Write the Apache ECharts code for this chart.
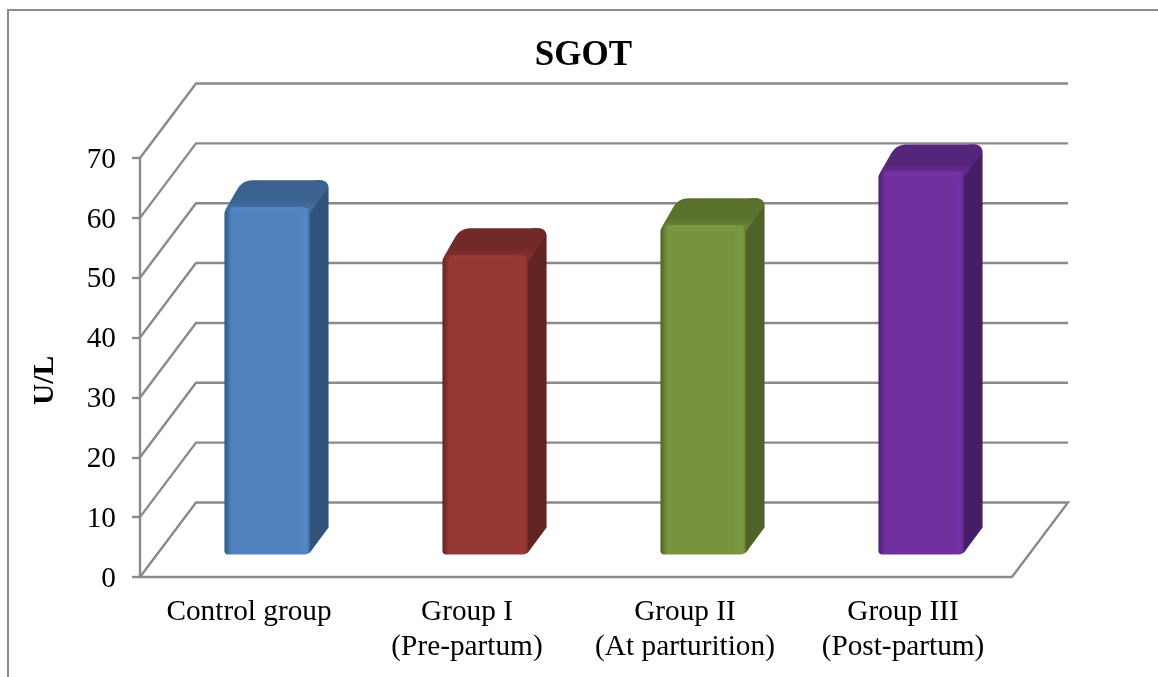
<!DOCTYPE html>
<html>
<head>
<meta charset="utf-8">
<style>html,body{margin:0;padding:0;background:#fff}#c{width:1158px;height:677px}</style>
<script src="https://cdn.jsdelivr.net/npm/echarts@6/dist/echarts.min.js"></script>
</head>
<body>
<div id="c"></div>
<script>
const categories = ['Control group', 'Group I\n(Pre-partum)', 'Group II\n(At parturition)', 'Group III\n(Post-partum)'];
const values = [58, 50, 55, 64];
const yTicks = [0, 10, 20, 30, 40, 50, 60, 70];
const faceColors = ['#4F81BD', '#953735', '#77933C', '#7030A0'];
const faceLightColors = ['#5488C6', '#9C3A38', '#7D9A3F', '#7632A8'];
const edgeColors = ['#2F5785', '#632423', '#4F6228', '#4A1F6A'];
const sideColors = ['#315379', '#622423', '#4F6228', '#461E66'];
const topColors = ['#3B6291', '#722A29', '#5B722D', '#55257C'];
const topLightColors = ['#4675AC', '#88322F', '#6C8736', '#662C92'];
const lineColor = '#8A8A8A';
const wallDx = 56, wallDy = 74.5;
const barFrontDx = 18, barFrontDy = 22.5;
const barDepthDx = 18, barDepthDy = 27;

function roundPoly(pts, radii) {
  const out = [];
  const n = pts.length;
  for (let i = 0; i < n; i++) {
    const p = pts[i], a = pts[(i + n - 1) % n], b = pts[(i + 1) % n], r = radii[i];
    if (!r) { out.push(p); continue; }
    const la = Math.hypot(a[0] - p[0], a[1] - p[1]), lb = Math.hypot(b[0] - p[0], b[1] - p[1]);
    const s = [p[0] + (a[0] - p[0]) * r / la, p[1] + (a[1] - p[1]) * r / la];
    const e = [p[0] + (b[0] - p[0]) * r / lb, p[1] + (b[1] - p[1]) * r / lb];
    for (let k = 0; k <= 6; k++) {
      const t = k / 6, u = 1 - t;
      out.push([u * u * s[0] + 2 * u * t * p[0] + t * t * e[0], u * u * s[1] + 2 * u * t * p[1] + t * t * e[1]]);
    }
  }
  return out;
}

function renderWall(params, api) {
  const cs = params.coordSys;
  const y = api.coord([0, api.value(1)])[1];
  const left = cs.x, right = cs.x + cs.width;
  const pts = [[left, y], [left + wallDx, y - wallDy], [right + wallDx, y - wallDy]];
  if (api.value(1) === 0) pts.push([right, y]);
  return { type: 'polyline', shape: { points: pts }, style: { stroke: lineColor, lineWidth: 2.4, fill: null }, silent: true };
}

function renderBar(params, api) {
  const i = api.value(0);
  const top = api.coord([i, api.value(1)]);
  const base = api.coord([i, 0]);
  const w = api.size([1, 0])[0] * 0.395;
  const x0 = top[0] + barFrontDx - w / 2 + 0.5, x1 = x0 + w;
  const yt = top[1] - barFrontDy, yb = base[1] - barFrontDy;
  const dx = barDepthDx, dy = barDepthDy;
  const face = faceColors[i], edge = edgeColors[i];
  const gradH = { type: 'linear', x: 0, y: 0, x2: 1, y2: 0, colorStops: [
    { offset: 0, color: edge }, { offset: 0.08, color: face }, { offset: 0.84, color: face },
    { offset: 0.93, color: faceLightColors[i] }, { offset: 0.97, color: face }, { offset: 1, color: edge }] };
  const gradTop = { type: 'linear', x: 0, y: 0, x2: 0, y2: 1, colorStops: [
    { offset: 0, color: topColors[i] }, { offset: 0.6, color: topColors[i] }, { offset: 1, color: topLightColors[i] }] };
  const capH = { type: 'linear', x: 0, y: 0, x2: 0, y2: 1, colorStops: [
    { offset: 0, color: faceLightColors[i] }, { offset: 1, color: face }] };
  return {
    type: 'group',
    children: [
      { type: 'polygon', shape: { points: roundPoly([[x1 - 2, yb], [x1 - 2, yt - 2], [x1 + dx - 14, yt - dy], [x1 + dx, yt - dy], [x1 + dx, yb - dy]], [4, 0, 0, 9, 0]) },
        style: { fill: sideColors[i] } },
      { type: 'polygon', shape: { points: roundPoly([[x0, yt + 4], [x0 + dx, yt - dy], [x1 + dx, yt - dy], [x1 + dx, yt - dy + 7], [x1, yt + 5]], [4, 10, 9, 0, 0]) },
        style: { fill: gradTop } },
      { type: 'polygon', shape: { points: roundPoly([[x0, yb], [x0, yt], [x1, yt], [x1, yb]], [4, 7, 7, 6]) },
        style: { fill: gradH } },
      { type: 'polygon', shape: { points: roundPoly([[x0 + 6, yt + 7], [x0 + 9, yt], [x1 - 9, yt], [x1 - 5, yt + 7]], [0, 3, 3, 0]) },
        style: { fill: capH } }
    ]
  };
}

const chart = echarts.init(document.getElementById('c'), null, { renderer: 'canvas' });
chart.setOption({
  animation: false,
  backgroundColor: '#fff',
  textStyle: { fontFamily: '"Liberation Serif"', color: '#000' },
  title: {
    text: 'SGOT', left: 578.5, top: 33, textAlign: 'center',
    textStyle: { fontFamily: '"Liberation Serif"', fontWeight: 'bold', fontSize: 35, color: '#000' }
  },
  grid: { left: 140, right: 146, top: 158, bottom: 100 },
  xAxis: {
    type: 'category', data: categories,
    axisLine: { show: true, lineStyle: { color: lineColor, width: 2.4 } },
    axisTick: { show: false },
    axisLabel: { fontFamily: '"Liberation Serif"', fontSize: 29.3, color: '#000', lineHeight: 35, margin: 18, interval: 0 }
  },
  yAxis: {
    type: 'value', min: 0, max: 70, interval: 10,
    name: 'U/L', nameLocation: 'middle', nameGap: 80, nameRotate: 90,
    nameTextStyle: { fontFamily: '"Liberation Serif"', fontWeight: 'bold', fontSize: 29.5, color: '#000', padding: [0, 26, 0, 0] },
    axisLine: { show: true, lineStyle: { color: lineColor, width: 2.4 } },
    axisTick: { show: true, length: 8, lineStyle: { color: lineColor, width: 2.4 } },
    axisLabel: { fontFamily: '"Liberation Serif"', fontSize: 29.3, color: '#000', margin: 24, verticalAlign: 'top', lineHeight: 4,
      formatter: function (v) { return yTicks.indexOf(v) >= 0 ? String(v) : ''; } },
    splitLine: { show: false }
  },
  graphic: [{
    type: 'polyline', silent: true,
    shape: { points: [[8, 677], [8, 10], [1158, 10]] },
    style: { stroke: lineColor, lineWidth: 2, fill: null }
  }],
  series: [
    { type: 'custom', name: 'walls', z: 1, clip: false, silent: true,
      data: yTicks.map(function (t) { return [0, t]; }),
      encode: { x: 0, y: 1 }, renderItem: renderWall },
    { type: 'custom', name: 'SGOT', z: 3, clip: false,
      data: values.map(function (v, i) { return [i, v]; }),
      encode: { x: 0, y: 1 }, renderItem: renderBar }
  ]
});
</script>
</body>
</html>
